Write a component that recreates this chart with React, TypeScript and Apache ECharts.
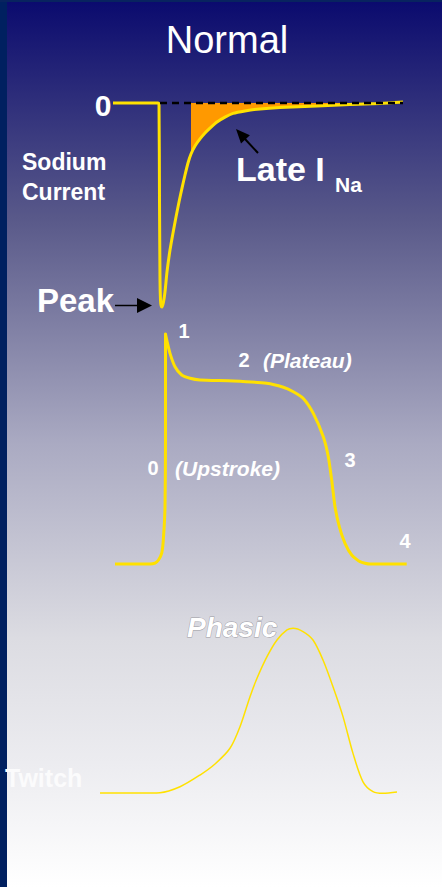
import React, { useEffect, useRef } from "react";
import * as echarts from "echarts";

// Sodium current: time (ms) and current (% of peak inward current)
const naTime = [0, 45, 46, 46.5, 47, 47.5, 48.2, 49, 50.5, 52, 54, 57, 60, 63, 66, 69, 72, 75, 78, 82, 87, 92, 97, 104, 112, 120, 132, 147, 167, 204, 237, 267, 290];
const naCurrent = [0, 0, -0.5, -47.5, -86.8, -96.6, -99.5, -100, -97.5, -92.6, -82.8, -72.1, -63.7, -55.9, -48.5, -41.7, -35.3, -29.4, -25.0, -21.1, -17.6, -14.7, -12.3, -9.3, -6.9, -5.1, -3.9, -2.9, -2.2, -1.5, -0.7, -0.2, 0.5];
// Late sodium current starts here (ms)
const lateStart = 78;
// Zero-current reference
const zeroTime = [47, 290];

// Action potential: time (ms) and membrane voltage (mV)
const apTime = [0, 35, 40, 43.5, 46.7, 48.3, 50, 50.5, 50.5, 51.7, 55, 60, 66.7, 75, 85, 118.3, 151.7, 168.3, 178.3, 188.3, 198.3, 208.3, 213.3, 216.7, 220, 224.3, 230, 236.7, 245, 255, 291.7];
const apVoltage = [-90, -90, -89.5, -87.9, -84.3, -77.5, -60.3, -25.3, 30, 26.9, 19.9, 12.9, 8.6, 6.9, 6.0, 5.5, 4.3, 2.2, -0.1, -3.6, -11.4, -23.6, -34, -46.2, -60.1, -70.5, -79.2, -85.3, -88.8, -90, -90];

// Twitch: time (ms) and force (% of peak)
const twitchTime = [0, 40, 60, 80, 100, 115, 130, 140, 150, 157, 167, 177, 187, 193, 203, 213, 223, 233, 243, 253, 263, 273, 283, 297];
const twitchForce = [0, 0, 0.2, 3.8, 10.9, 17.6, 27.1, 40.2, 58.4, 69.5, 82.6, 92.7, 98.8, 99.8, 97.8, 92.7, 80.6, 64.4, 46.3, 24, 6.8, 0.8, -0.2, 0.6];

const FONT = "'Liberation Sans', Arial, sans-serif";
const YELLOW = "#ffe100";

const pairs = (xs: number[], ys: number[]) => xs.map((x, i) => [x, ys[i]]);

function label(text: string, x: number, y: number, size: number, opts: any = {}) {
  return {
    type: "text",
    z: 10,
    style: {
      text,
      x,
      y,
      fill: opts.fill || "#ffffff",
      font: `${opts.italic ? "italic " : ""}${opts.weight || "bold"} ${size}px ${FONT}`,
      textAlign: opts.align || "left",
      textVerticalAlign: "middle",
      stroke: opts.stroke,
      lineWidth: opts.lineWidth,
    },
  };
}

export default function App() {
  const ref = useRef<HTMLDivElement>(null);

  useEffect(() => {
    if (!ref.current) return;
    const chart = echarts.init(ref.current, null, { renderer: "svg" });

    const naData = pairs(naTime, naCurrent);
    const lateData = naData.filter((p) => p[0] >= lateStart);

    const hiddenAxis = (min: number, max: number, gridIndex: number) => ({
      type: "value",
      min,
      max,
      gridIndex,
      show: false,
    });

    chart.setOption({
      animation: false,
      backgroundColor: {
        type: "linear",
        x: 0,
        y: 0,
        x2: 0,
        y2: 1,
        colorStops: [
          { offset: 0, color: "#0a0a6e" },
          { offset: 0.25, color: "#5a5a8a" },
          { offset: 0.5, color: "#aaaac2" },
          { offset: 0.72, color: "#dcdce2" },
          { offset: 0.86, color: "#ececf0" },
          { offset: 1, color: "#ffffff" },
        ],
      },
      grid: [
        { left: 113, top: 103, width: 290, height: 204 },
        { left: 115, top: 334, width: 292, height: 230 },
        { left: 100, top: 628, width: 297, height: 165 },
      ],
      xAxis: [hiddenAxis(0, 290, 0), hiddenAxis(0, 292, 1), hiddenAxis(0, 297, 2)],
      yAxis: [hiddenAxis(-100, 0, 0), hiddenAxis(-90, 30, 1), hiddenAxis(0, 100, 2)],
      series: [
        {
          name: "Late INa",
          type: "line",
          xAxisIndex: 0,
          yAxisIndex: 0,
          data: lateData,
          symbol: "none",
          clip: false,
          smooth: 0.2,
          lineStyle: { width: 0 },
          areaStyle: { color: "#ff9900", opacity: 1, origin: 0 },
          z: 2,
        },
        {
          name: "Sodium current",
          type: "line",
          xAxisIndex: 0,
          yAxisIndex: 0,
          data: naData,
          symbol: "none",
          clip: false,
          smooth: 0.2,
          lineStyle: { color: YELLOW, width: 3 },
          z: 3,
        },
        {
          name: "Zero",
          type: "line",
          xAxisIndex: 0,
          yAxisIndex: 0,
          data: zeroTime.map((t) => [t, 0]),
          symbol: "none",
          clip: false,
          lineStyle: { color: "#000000", width: 2.5, type: [7, 5] },
          z: 4,
        },
        {
          name: "Action potential",
          type: "line",
          xAxisIndex: 1,
          yAxisIndex: 1,
          data: pairs(apTime, apVoltage),
          symbol: "none",
          clip: false,
          smooth: 0.2,
          lineStyle: { color: YELLOW, width: 3 },
          z: 3,
        },
        {
          name: "Twitch",
          type: "line",
          xAxisIndex: 2,
          yAxisIndex: 2,
          data: pairs(twitchTime, twitchForce),
          symbol: "none",
          clip: false,
          smooth: 0.3,
          lineStyle: { color: YELLOW, width: 1.5 },
          z: 3,
        },
      ],
      graphic: [
        { type: "rect", shape: { x: 0, y: 0, width: 7, height: 887 }, style: { fill: "#002060" }, z: 1 },
        { type: "rect", shape: { x: 0, y: 0, width: 442, height: 2 }, style: { fill: "#08235f" }, z: 1 },
        label("Normal", 227, 40, 38, { weight: "normal", align: "center" }),
        label("0", 103, 105, 30, { align: "center" }),
        label("Sodium", 22, 162, 23),
        label("Current", 22, 192, 23),
        label("Late I", 236, 169, 34),
        label("Na", 335, 184, 21),
        label("Peak", 37, 300, 33),
        label("1", 184, 331, 20, { align: "center" }),
        label("2", 244, 360, 20, { align: "center" }),
        label("(Plateau)", 263, 360, 21, { italic: true }),
        label("0", 153, 468, 20, { align: "center" }),
        label("(Upstroke)", 175, 468, 21, { italic: true }),
        label("3", 350, 460, 20, { align: "center" }),
        label("4", 405, 541, 20, { align: "center" }),
        label("Phasic", 187, 627, 28, { italic: true, fill: "#ffffff", stroke: "#9a9aa2", lineWidth: 0.9 }),
        label("Twitch", 5, 778, 25, { fill: "#fbfbfc" }),
        // Peak arrow
        { type: "line", z: 10, shape: { x1: 115, y1: 305.5, x2: 140, y2: 305.5 }, style: { stroke: "#000", lineWidth: 1.5 } },
        { type: "polygon", z: 10, shape: { points: [[137, 298], [152, 305.5], [137, 313]] }, style: { fill: "#000" } },
        // Late INa arrow
        { type: "line", z: 10, shape: { x1: 258, y1: 153, x2: 245, y2: 139 }, style: { stroke: "#000", lineWidth: 2 } },
        { type: "polygon", z: 10, shape: { points: [[236, 129], [249.9, 135.3], [241, 143.4]] }, style: { fill: "#000" } },
      ],
    });

    return () => chart.dispose();
  }, []);

  return <div ref={ref} style={{ position: "absolute", left: 0, top: 0, width: 442, height: 887 }} />;
}
